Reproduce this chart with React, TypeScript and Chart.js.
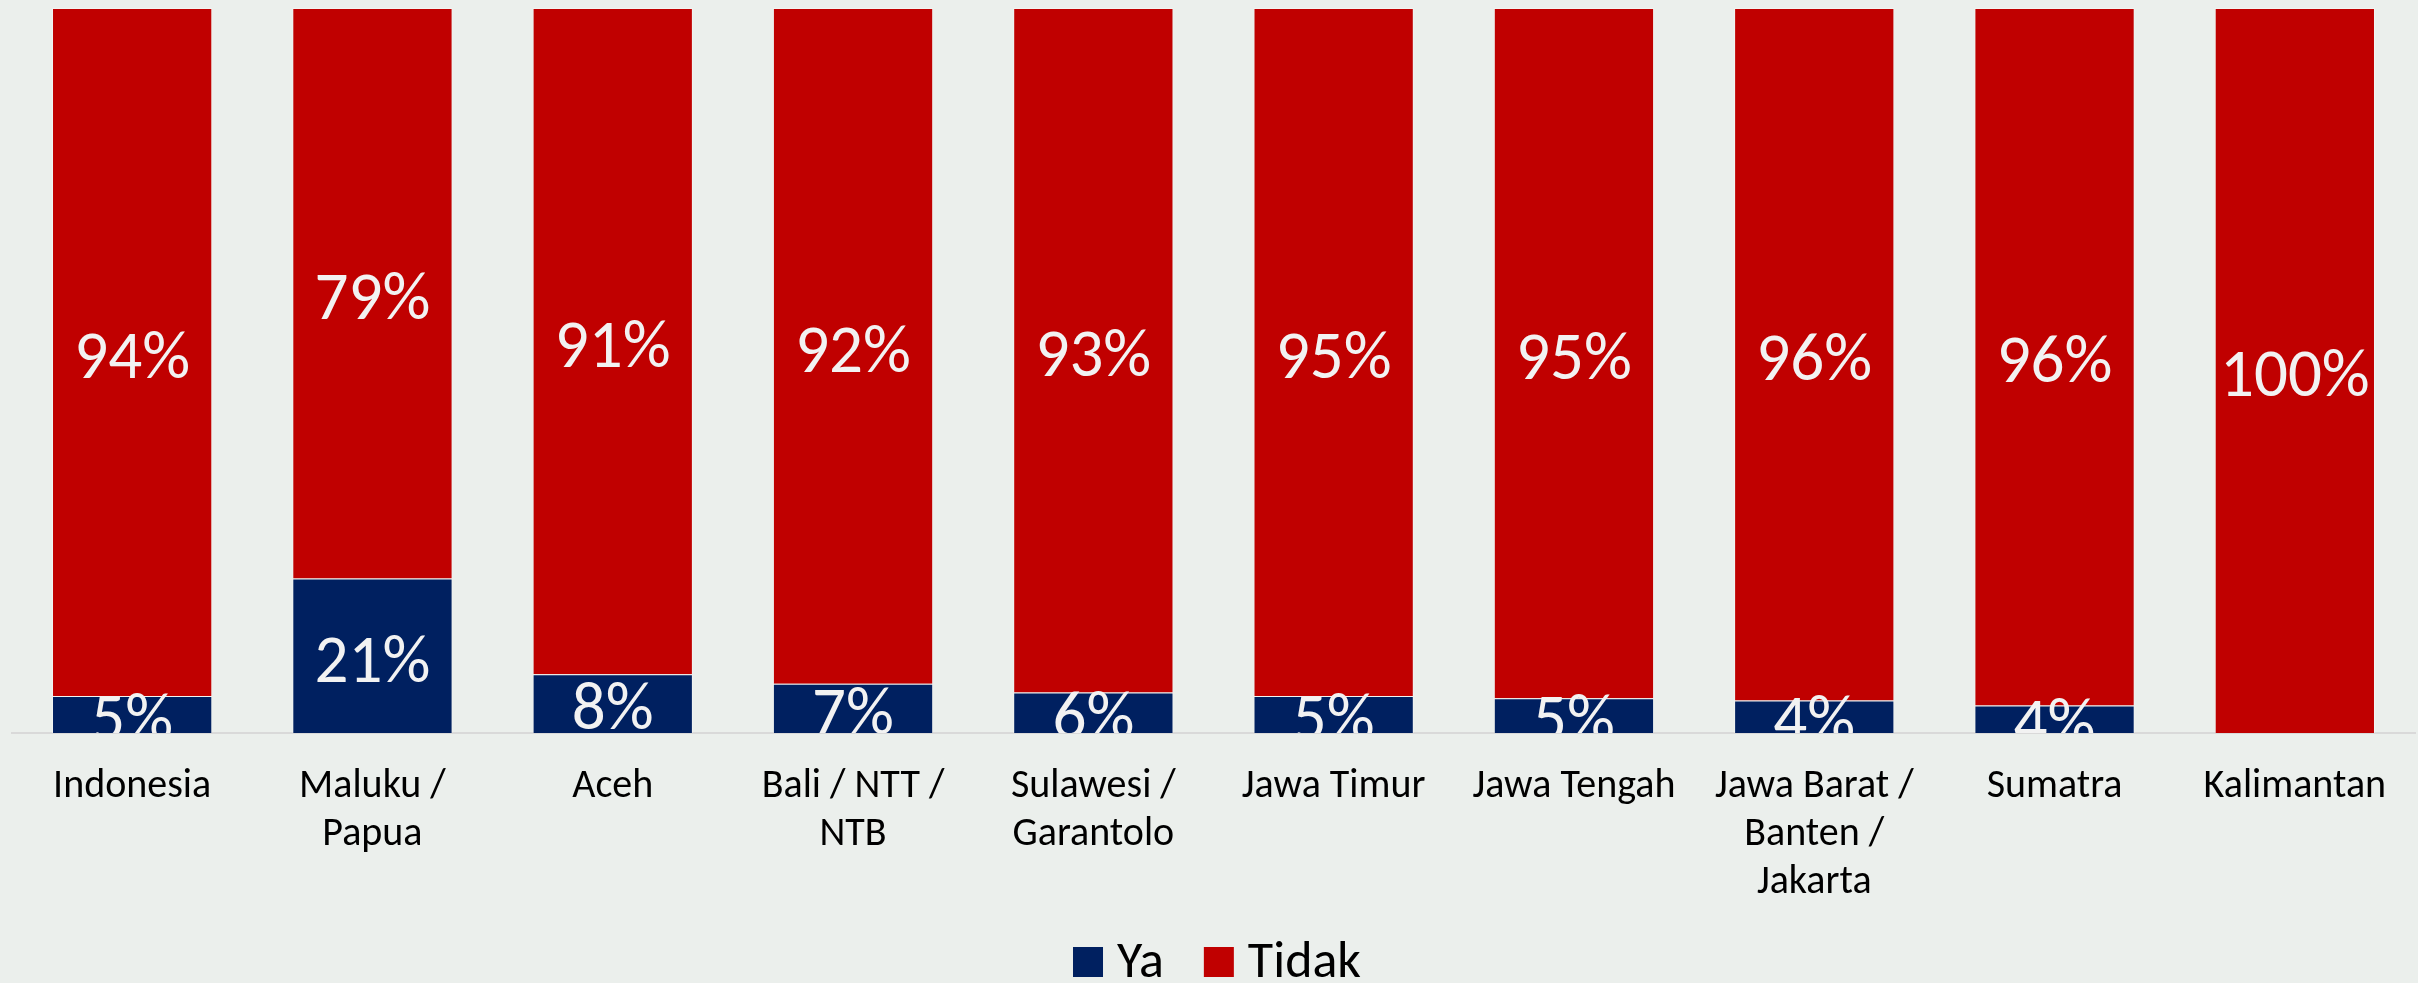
import React, { useEffect, useRef } from "react";
import { Chart, registerables } from "chart.js";

Chart.register(...registerables);

const categories: (string | string[])[] = [
  "Indonesia",
  ["Maluku /", "Papua"],
  "Aceh",
  ["Bali / NTT /", "NTB"],
  ["Sulawesi /", "Garantolo"],
  "Jawa Timur",
  "Jawa Tengah",
  ["Jawa Barat /", "Banten /", "Jakarta"],
  "Sumatra",
  "Kalimantan",
];

const yaValues = [5.1, 21.3, 8.1, 6.8, 5.6, 5.1, 4.8, 4.5, 3.8, 0];
const tidakValues = [94.9, 78.7, 91.9, 93.2, 94.4, 94.9, 95.2, 95.5, 96.2, 100];

const yaLabels = ["5%", "21%", "8%", "7%", "6%", "5%", "5%", "4%", "4%", ""];
const tidakLabels = ["94%", "79%", "91%", "92%", "93%", "95%", "95%", "96%", "96%", "100%"];

const FONT = "Calibri, Carlito, Lato, sans-serif";
const BG = "#EBEFEC";
const NAVY = "#002060";
const RED = "#C00000";

const dataLabelPlugin = {
  id: "dataLabels",
  afterDatasetsDraw(chart: any) {
    const { ctx, chartArea } = chart;
    const labelSets = [yaLabels, tidakLabels];
    ctx.save();
    ctx.beginPath();
    ctx.rect(chartArea.left, chartArea.top, chartArea.right - chartArea.left, chartArea.bottom - chartArea.top);
    ctx.clip();
    ctx.fillStyle = "#F2F2F2";
    ctx.font = `67px ${FONT}`;
    ctx.textAlign = "center";
    ctx.textBaseline = "middle";
    chart.data.datasets.forEach((_ds: any, di: number) => {
      const meta = chart.getDatasetMeta(di);
      meta.data.forEach((el: any, i: number) => {
        const txt = labelSets[di][i];
        if (!txt) return;
        const cy = (el.y + el.base) / 2;
        ctx.fillText(txt, el.x, cy + 9);
      });
    });
    ctx.restore();
  },
};

const legendPlugin = {
  id: "customLegend",
  afterDraw(chart: any) {
    const { ctx, width, height } = chart;
    const items = chart.data.datasets.map((ds: any) => ({ text: ds.label, color: ds.backgroundColor }));
    const box = 30;
    const gapText = 14;
    const gapItem = 40;
    ctx.save();
    ctx.font = `52px ${FONT}`;
    const widths = items.map((it: any) => box + gapText + ctx.measureText(it.text).width);
    const total = widths.reduce((a: number, b: number) => a + b, 0) + gapItem * (items.length - 1);
    let x = (width - total) / 2 + 8;
    const baseY = height - 6;
    items.forEach((it: any, i: number) => {
      ctx.fillStyle = it.color;
      ctx.fillRect(x, baseY - box, box, box);
      ctx.fillStyle = "#000000";
      ctx.textAlign = "left";
      ctx.textBaseline = "alphabetic";
      ctx.fillText(it.text, x + box + gapText, baseY);
      x += widths[i] + gapItem;
    });
    ctx.restore();
  },
};

const bgPlugin = {
  id: "bg",
  beforeDraw(chart: any) {
    const { ctx, width, height } = chart;
    ctx.save();
    ctx.fillStyle = BG;
    ctx.fillRect(0, 0, width, height);
    ctx.restore();
  },
};

export default function App() {
  const ref = useRef<HTMLCanvasElement | null>(null);

  useEffect(() => {
    document.body.style.margin = "0";
    document.body.style.background = BG;
    const canvas = ref.current!;
    const chart = new Chart(canvas, {
      type: "bar",
      data: {
        labels: categories,
        datasets: [
          {
            label: "Ya",
            data: yaValues,
            backgroundColor: NAVY,
            borderColor: "rgba(255,255,255,0.35)",
            borderWidth: 1,
            barPercentage: 0.667,
            categoryPercentage: 1,
          },
          {
            label: "Tidak",
            data: tidakValues,
            backgroundColor: RED,
            borderColor: "rgba(255,255,255,0.35)",
            borderWidth: 1,
            barPercentage: 0.667,
            categoryPercentage: 1,
          },
        ],
      },
      options: {
        animation: false,
        responsive: false,
        maintainAspectRatio: false,
        layout: { padding: { left: 12, right: 3, top: 8, bottom: 70 } },
        scales: {
          x: {
            stacked: true,
            grid: { display: false },
            border: { display: true, color: "#D9D9D9", width: 2 },
            ticks: {
              color: "#000000",
              font: { family: FONT, size: 40 },
              padding: 22,
              maxRotation: 0,
              autoSkip: false,
            },
            afterFit(scale: any) {
              scale.height = 180;
            },
          },
          y: {
            stacked: true,
            display: false,
            min: 0,
            max: 100,
          },
        },
        plugins: {
          legend: { display: false },
          tooltip: { enabled: false },
        },
      },
      plugins: [bgPlugin, dataLabelPlugin, legendPlugin],
    });
    return () => chart.destroy();
  }, []);

  return <canvas ref={ref} width={2418} height={983} style={{ display: "block" }} />;
}
